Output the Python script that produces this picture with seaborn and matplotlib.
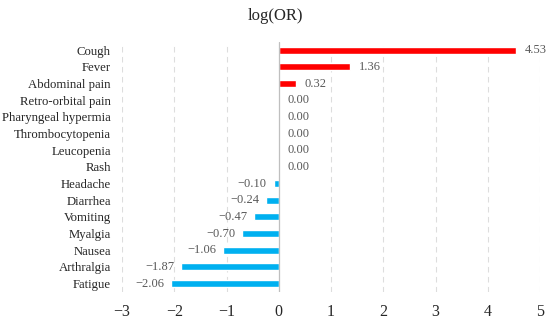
import pandas as pd
import matplotlib.pyplot as plt
import seaborn as sns

symptoms = ['Cough', 'Fever', 'Abdominal pain', 'Retro-orbital pain',
            'Pharyngeal hypermia', 'Thrombocytopenia', 'Leucopenia', 'Rash',
            'Headache', 'Diarrhea', 'Vomiting', 'Myalgia', 'Nausea',
            'Arthralgia', 'Fatigue']
log_or = [4.53, 1.36, 0.32, 0.00, 0.00, 0.00, 0.00, 0.00,
          -0.10, -0.24, -0.47, -0.70, -1.06, -1.87, -2.06]
x_ticks = [-3, -2, -1, 0, 1, 2, 3, 4, 5]


def main():
    df = pd.DataFrame({'symptom': symptoms, 'value': log_or})
    df['sign'] = ['pos' if v >= 0 else 'neg' for v in df['value']]

    sns.set_style('white')
    plt.rcParams['font.family'] = ['Liberation Serif', 'DejaVu Serif']

    fig = plt.figure(figsize=(5.5, 3.23), dpi=100)
    ax = fig.add_axes([0.222, 0.096, 0.76, 0.774])

    sns.barplot(data=df, x='value', y='symptom', hue='sign', order=symptoms,
                palette={'pos': '#FF0000', 'neg': '#00B0F0'}, orient='h',
                width=0.42, dodge=False, legend=False, ax=ax, saturation=1)

    ax.set_xlim(-3, 5)
    ax.set_ylim(len(symptoms) - 0.5, -0.5)
    ax.set_xticks(x_ticks)
    ax.set_xticklabels([f'{t}'.replace('-', '\u2212') for t in x_ticks], fontsize=11.5)
    ax.tick_params(axis='y', labelsize=9.2, length=0, pad=8)
    ax.tick_params(axis='x', length=0, pad=9)
    ax.set_xlabel('')
    ax.set_ylabel('')
    for s in ax.spines.values():
        s.set_visible(False)

    for t in x_ticks:
        if t != 0:
            ax.axvline(t, color='#DDDDDD', lw=0.8, ls=(0, (5, 4)), zorder=0)
    ax.axvline(0, color='#BFBFBF', lw=0.9, zorder=3)

    # etiquetas de valores
    for i, v in enumerate(log_or):
        txt = f'{v:.2f}'.replace('-', '\u2212')
        if v >= 0:
            ax.annotate(txt, (v, i), xytext=(6.5, 0), textcoords='offset points',
                        ha='left', va='center', fontsize=9, color='#595959')
        else:
            ax.annotate(txt, (v, i), xytext=(-5, 0), textcoords='offset points',
                        ha='right', va='center', fontsize=9, color='#595959')

    fig.suptitle('log(OR)', y=0.975, fontsize=12)
    fig.savefig('out.png', dpi=100)


if __name__ == '__main__':
    main()
